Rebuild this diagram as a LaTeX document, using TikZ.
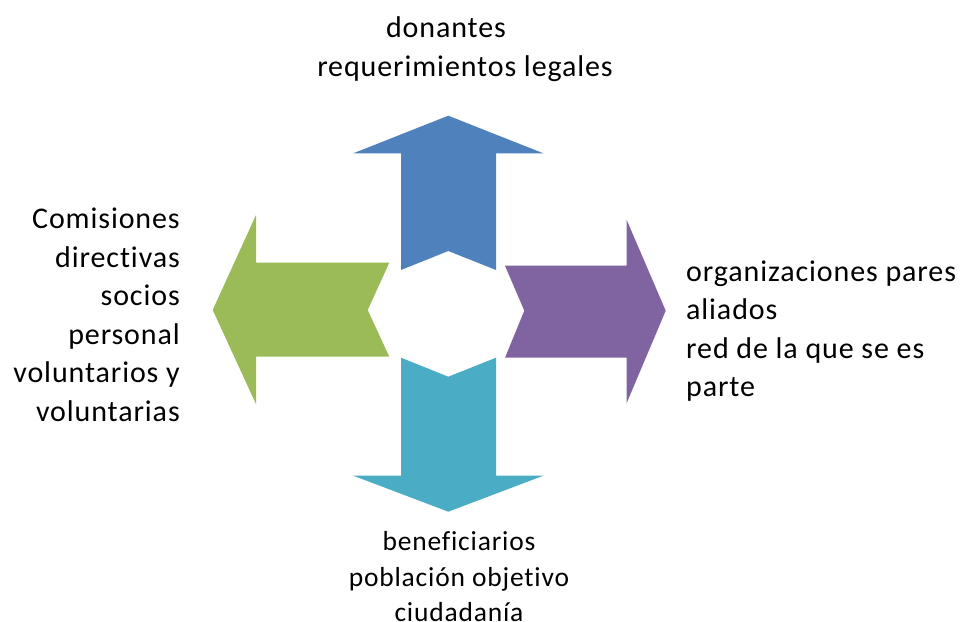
\documentclass[tikz,border=0pt]{standalone}
\usepackage{fontspec}
\setmainfont[Ligatures=CommonOff]{Carlito}
\newfontfamily\lblfont[Ligatures=CommonOff,LetterSpace=3]{Carlito}
\definecolor{cblue}{HTML}{4F81BD}
\definecolor{cpurple}{HTML}{8064A2}
\definecolor{cgreen}{HTML}{9BBB59}
\definecolor{cteal}{HTML}{4BACC6}
\begin{document}
\begin{tikzpicture}[x=1pt,y=-1pt,
  lbl/.style={font=\lblfont\fontsize{30}{38.5}\selectfont, inner sep=0pt, text=black},
  lblsmall/.style={font=\lblfont\fontsize{27.5}{35.5}\selectfont, inner sep=0pt, text=black}]
\useasboundingbox (0,0) rectangle (963,621);
% up arrow
\fill[cblue] (448.3,115.7) -- (543.3,153.3) -- (496,153.3) -- (496,270) -- (448.3,251) -- (401,270) -- (401,153.3) -- (353.3,153.3) -- cycle;
% down arrow
\fill[cteal] (448.3,511.7) -- (543.3,475.7) -- (496,475.7) -- (496,357.7) -- (448.3,376.7) -- (401,357.7) -- (401,475.7) -- (353.3,475.7) -- cycle;
% left arrow
\fill[cgreen] (212.7,310) -- (256,215) -- (256,262.7) -- (389.3,262.7) -- (367.7,310) -- (389.3,356.7) -- (256,356.7) -- (256,404) -- cycle;
% right arrow
\fill[cpurple] (665.7,310.7) -- (626.7,220) -- (626.7,265.7) -- (505,265.7) -- (524.3,310.7) -- (505,357.7) -- (626.7,357.7) -- (626.7,403) -- cycle;
% labels
\node[lbl, align=center] (top) at (465,49) {donantes\kern38pt\\requerimientos legales};
\node[lbl, align=right, anchor=east] (left) at (180,315) {Comisiones\\directivas\\socios\\personal\\voluntarios y\\voluntarias};
\node[lbl, align=left, anchor=west] (right) at (686,331) {organizaciones pares\\aliados\\red de la que se es\\parte};
\node[lblsmall, align=center] (bottom) at (459,577) {beneficiarios\\población objetivo\\ciudadanía};
\end{tikzpicture}
\end{document}
